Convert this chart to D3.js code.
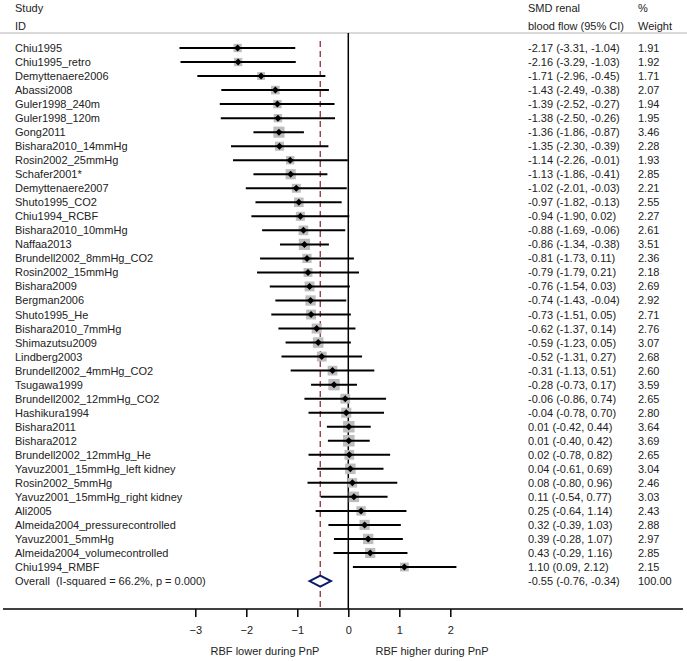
<!DOCTYPE html>
<html><head><meta charset="utf-8">
<script src="https://cdn.jsdelivr.net/npm/d3@7/dist/d3.min.js"></script>
<style>body{margin:0;background:#fff}svg{display:block}text{font-family:"Liberation Sans",Arial,sans-serif;font-size:11px;fill:#222;white-space:pre}</style>
</head><body>
<svg id="c" width="687" height="661"></svg>
<script>
const studies = ["Chiu1995","Chiu1995_retro","Demyttenaere2006","Abassi2008","Guler1998_240m","Guler1998_120m","Gong2011","Bishara2010_14mmHg","Rosin2002_25mmHg","Schafer2001*","Demyttenaere2007","Shuto1995_CO2","Chiu1994_RCBF","Bishara2010_10mmHg","Naffaa2013","Brundell2002_8mmHg_CO2","Rosin2002_15mmHg","Bishara2009","Bergman2006","Shuto1995_He","Bishara2010_7mmHg","Shimazutsu2009","Lindberg2003","Brundell2002_4mmHg_CO2","Tsugawa1999","Brundell2002_12mmHg_CO2","Hashikura1994","Bishara2011","Bishara2012","Brundell2002_12mmHg_He","Yavuz2001_15mmHg_left kidney","Rosin2002_5mmHg","Yavuz2001_15mmHg_right kidney","Ali2005","Almeida2004_pressurecontrolled","Yavuz2001_5mmHg","Almeida2004_volumecontrolled","Chiu1994_RMBF"];
const smd = [-2.17,-2.16,-1.71,-1.43,-1.39,-1.38,-1.36,-1.35,-1.14,-1.13,-1.02,-0.97,-0.94,-0.88,-0.86,-0.81,-0.79,-0.76,-0.74,-0.73,-0.62,-0.59,-0.52,-0.31,-0.28,-0.06,-0.04,0.01,0.01,0.02,0.04,0.08,0.11,0.25,0.32,0.39,0.43,1.10];
const lower = [-3.31,-3.29,-2.96,-2.49,-2.52,-2.50,-1.86,-2.30,-2.26,-1.86,-2.01,-1.82,-1.90,-1.69,-1.34,-1.73,-1.79,-1.54,-1.43,-1.51,-1.37,-1.23,-1.31,-1.13,-0.73,-0.86,-0.78,-0.42,-0.40,-0.78,-0.61,-0.80,-0.54,-0.64,-0.39,-0.28,-0.29,0.09];
const upper = [-1.04,-1.03,-0.45,-0.38,-0.27,-0.26,-0.87,-0.39,-0.01,-0.41,-0.03,-0.13,0.02,-0.06,-0.38,0.11,0.21,0.03,-0.04,0.05,0.14,0.05,0.27,0.51,0.17,0.74,0.70,0.44,0.42,0.82,0.69,0.96,0.77,1.14,1.03,1.07,1.16,2.12];
const weights = [1.91,1.92,1.71,2.07,1.94,1.95,3.46,2.28,1.93,2.85,2.21,2.55,2.27,2.61,3.51,2.36,2.18,2.69,2.92,2.71,2.76,3.07,2.68,2.60,3.59,2.65,2.80,3.64,3.69,2.65,3.04,2.46,3.03,2.43,2.88,2.97,2.85,2.15];
const overall = {label:"Overall  (I-squared = 66.2%, p = 0.000)", est:-0.55, lo:-0.76, hi:-0.34, w:"100.00"};
const xTicks = [-3,-2,-1,0,1,2];
const xLabelLeft = "RBF lower during PnP", xLabelRight = "RBF higher during PnP";

const svg = d3.select("#c");
const x = d3.scaleLinear().domain([0,1]).range([348.3,399.3]);
const rowY = d3.scaleLinear().domain([0,37]).range([48,567]);
const axisY = 609;
const f2 = d => d.toFixed(2);

// header
svg.append("text").attr("x",15).attr("y",12).text("Study");
svg.append("text").attr("x",15).attr("y",30).text("ID");
svg.append("text").attr("x",528).attr("y",12).text("SMD renal");
svg.append("text").attr("x",528).attr("y",30).text("blood flow (95% CI)");
svg.append("text").attr("x",638).attr("y",12).text("%");
svg.append("text").attr("x",638).attr("y",30).text("Weight");
svg.append("line").attr("x1",0).attr("x2",687).attr("y1",33).attr("y2",33).attr("stroke","#ccc").attr("stroke-width",1.5);

// zero line
svg.append("line").attr("x1",x(0)).attr("x2",x(0)).attr("y1",33).attr("y2",axisY).attr("stroke","#000").attr("stroke-width",1.5);
// overall dashed
svg.append("line").attr("x1",x(overall.est)).attr("x2",x(overall.est)).attr("y1",41).attr("y2",axisY).attr("stroke","#8f2f3a").attr("stroke-width",1.3).attr("stroke-dasharray","6,4");

const g = svg.append("g");
studies.forEach((s,i)=>{
  const y = rowY(i);
  g.append("text").attr("x",15).attr("y",y+4).text(s);
  g.append("text").attr("x",528).attr("y",y+4).text(`${f2(smd[i])} (${f2(lower[i])}, ${f2(upper[i])})`);
  g.append("text").attr("x",638).attr("y",y+4).text(f2(weights[i]));
  const side = 6*Math.sqrt(weights[i]);
  g.append("rect").attr("x",x(smd[i])-side/2).attr("y",y-side/2).attr("width",side).attr("height",side).attr("fill","#bdbdbd");
  g.append("line").attr("x1",x(lower[i])).attr("x2",x(upper[i])).attr("y1",y).attr("y2",y).attr("stroke","#000").attr("stroke-width",2);
  const d=3.5;
  g.append("path").attr("d",`M${x(smd[i])-d},${y}L${x(smd[i])},${y-d}L${x(smd[i])+d},${y}L${x(smd[i])},${y+d}Z`).attr("fill","#000");
});
const oy = rowY(studies.length);
g.append("text").attr("x",15).attr("y",oy+4).text(overall.label);
g.append("text").attr("x",528).attr("y",oy+4).text(`${f2(overall.est)} (${f2(overall.lo)}, ${f2(overall.hi)})`);
g.append("text").attr("x",638).attr("y",oy+4).text(overall.w);
g.append("path").attr("d",`M${x(overall.lo)},${oy}L${x(overall.est)},${oy-5.5}L${x(overall.hi)},${oy}L${x(overall.est)},${oy+5.5}Z`).attr("fill","#fff").attr("stroke","#0a1a6b").attr("stroke-width",2);

// axis
svg.append("line").attr("x1",3).attr("x2",683).attr("y1",axisY).attr("y2",axisY).attr("stroke","#000").attr("stroke-width",1.5);
const ax = svg.append("g").attr("transform",`translate(0,${axisY})`).call(d3.axisBottom(x).tickValues(xTicks).tickSize(8).tickFormat(d3.format("d")));
ax.select(".domain").remove();
ax.selectAll("line").attr("stroke","#000").attr("stroke-width",1.5);
ax.selectAll("text").attr("dy","1.3em").style("font-family","Liberation Sans, Arial, sans-serif").style("font-size","11px").attr("fill","#222");
svg.append("text").attr("x",265).attr("y",655).attr("text-anchor","middle").text(xLabelLeft);
svg.append("text").attr("x",432).attr("y",655).attr("text-anchor","middle").text(xLabelRight);
</script>
</body></html>
